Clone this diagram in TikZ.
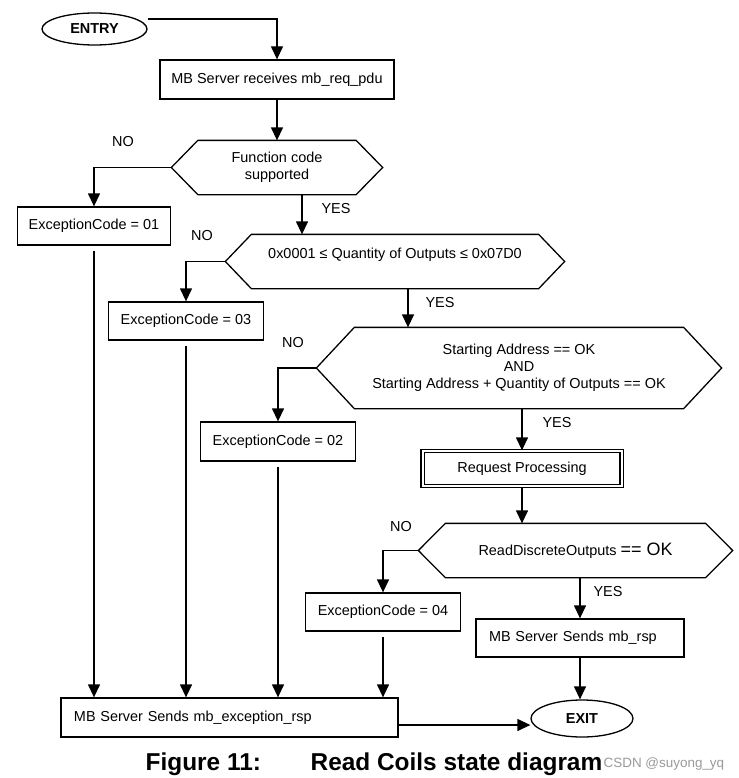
\documentclass[tikz,border=0pt]{standalone}
\usepackage{fontspec}
\setmainfont{Liberation Sans}
\usetikzlibrary{arrows.meta}
\usetikzlibrary{shapes.geometric}
\usetikzlibrary{calc}
\tikzset{
	box/.style={draw, rectangle, inner sep=0pt, minimum height=38bp},
	leftbox/.style={box, align=left, inner xsep=13bp},
	hexa/.style={rectangle, inner sep=0pt, align=center, minimum height=53bp},
	procbox/.style={box, double, double distance=2bp},
	term/.style={draw, ellipse, inner sep=0pt, font=\fontsize{14.5}{17}\selectfont\bfseries},
	caption/.style={inner sep=0pt, anchor=base west, font=\fontsize{24.5}{28}\selectfont\bfseries},
}

\begin{document}
\begin{tikzpicture}[x=1bp, y=-1bp, line width=1.3bp, >={Triangle[width=12bp,length=13bp]},
	every node/.append style={font=\fontsize{14.5}{17}\selectfont}]
	\useasboundingbox (0,0) rectangle (739,778);

	\node[term, minimum width=105bp, minimum height=32bp] (entry) at (94.5,29) {ENTRY};
	\node[box, minimum width=234bp, minimum height=39bp] (recv) at (277,79.5) {MB Server receives mb\_req\_pdu};
	\node[hexa, minimum width=157bp] (fcode) at (277,167.5) {Function code\\supported};
	\node (no1) at (123,142) {NO};
	\node[box, minimum width=153bp] (ex01) at (94,226) {ExceptionCode = 01};
	\node (yes1) at (336,209) {YES};
	\node[hexa, minimum width=286bp] (qty) at (395,261.5) {0x0001 ≤ Quantity of Outputs ≤ 0x07D0\\~};
	\node (no2) at (202,236) {NO};
	\node[box, minimum width=155bp] (ex03) at (186,321) {ExceptionCode = 03};
	\node (yes2) at (440,303) {YES};
	\node[hexa, minimum width=328bp, minimum height=80bp] (addr) at (519,368) {Starting Address == OK\\AND\\Starting Address + Quantity of Outputs == OK};
	\node (no3) at (293,343) {NO};
	\node[box, minimum width=155bp, minimum height=39bp] (ex02) at (278,441.5) {ExceptionCode = 02};
	\node (yes3) at (557,423) {YES};
	\node[procbox, minimum width=199bp, minimum height=35bp] (proc) at (522,468.5) {Request Processing};
	\node[hexa, minimum width=259bp] (rdo) at (575.5,550.5) {ReadDiscreteOutputs {\fontsize{18}{20}\selectfont == OK}};
	\node (no4) at (401,527) {NO};
	\node[box, minimum width=155bp] (ex04) at (383,612) {ExceptionCode = 04};
	\node (yes4) at (608,592) {YES};
	\node[leftbox, minimum width=208bp, text width=182bp] (rsp) at (580,638) {MB Server Sends mb\_rsp};
	\node[leftbox, minimum width=337bp, minimum height=39bp, text width=311bp] (exc) at (229.5,717.5) {MB Server Sends mb\_exception\_rsp};
	\node[term, minimum width=102bp, minimum height=37bp] (exit) at (582,718.5) {EXIT};

	% hexagon outlines
	\draw (fcode.north west) -- (fcode.north east) -- ([xshift=26.5bp]fcode.east) -- (fcode.south east) -- (fcode.south west) -- ([xshift=-26.5bp]fcode.west) -- cycle;
	\draw (qty.north west) -- (qty.north east) -- ([xshift=26bp]qty.east) -- (qty.south east) -- (qty.south west) -- ([xshift=-26bp]qty.west) -- cycle;
	\draw (addr.north west) -- (addr.north east) -- ([xshift=38bp]addr.east) -- (addr.south east) -- (addr.south west) -- ([xshift=-38bp]addr.west) -- cycle;
	\draw (rdo.north west) -- (rdo.north east) -- ([xshift=27bp]rdo.east) -- (rdo.south east) -- (rdo.south west) -- ([xshift=-27bp]rdo.west) -- cycle;

	\draw[->] ([yshift=10bp]entry.east) -| (recv);
	\draw[->] (recv) -- (recv |- fcode.north);
	\draw[->] ([xshift=-26.5bp]fcode.west) -| (ex01);
	\draw[->] ([xshift=25bp]fcode.south) -- ([xshift=25bp]fcode.south |- qty.north);
	\draw[->] ([xshift=-26bp]qty.west) -| (ex03);
	\draw[->] ([xshift=13bp]qty.south) -- ([xshift=13bp]qty.south |- addr.north);
	\draw[->] ([xshift=-38bp]addr.west) -| (ex02);
	\draw[->] (addr.south -| proc) -- (proc);
	\draw[->] (proc) -- (proc |- rdo.north);
	\draw[->] ([xshift=-27bp]rdo.west) -| (ex04);
	\draw[->] (rdo.south -| rsp) -- (rsp);
	\draw[->] (rsp) -- (rsp |- exit.north);

	% exception branches
	\draw[->, shorten <=5bp] (ex01) -- (ex01 |- exc.north);
	\draw[->, shorten <=5bp] (ex03) -- (ex03 |- exc.north);
	\draw[->, shorten <=5bp] (ex02) -- (ex02 |- exc.north);
	\draw[->, shorten <=5bp] (ex04) -- (ex04 |- exc.north);
	\draw[->] ([yshift=-7.5bp]exc.east) -- ([yshift=-7.5bp]exc.east -| exit.west);

	\node[caption] (figno) at (145,770) {Figure 11:};
	\node[caption] (figtitle) at (310,770) {Read Coils state diagram};
	\node[inner sep=0pt, anchor=base west, text=black!40, font=\fontsize{13.5}{16}\selectfont] (mark) at (603,767) {CSDN @suyong\_yq};
\end{tikzpicture}
\end{document}
